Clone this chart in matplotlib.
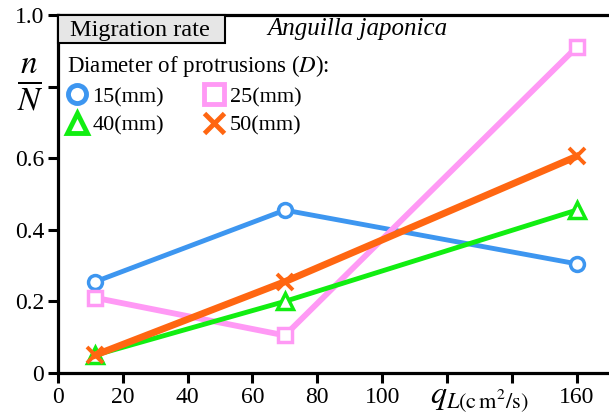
import numpy as np
import matplotlib
matplotlib.use('Agg')
import matplotlib.pyplot as plt
from matplotlib.patches import Rectangle
from matplotlib.lines import Line2D

# データ
q_L = [11.5, 70, 160]
rate_15 = [0.255, 0.455, 0.305]
rate_25 = [0.21, 0.105, 0.91]
rate_40 = [0.05, 0.20, 0.455]
rate_50 = [0.05, 0.255, 0.605]

x_ticks = [0, 20, 40, 60, 80, 100, 120, 140, 160]
x_labels = ['0', '20', '40', '60', '80', '100', '', '', '160']
y_ticks = [0, 0.2, 0.4, 0.6, 0.8, 1.0]
y_labels = ['0', '0.2', '0.4', '0.6', '', '1.0']

plt.rcParams['font.family'] = ['Liberation Serif', 'DejaVu Serif']
plt.rcParams['mathtext.fontset'] = 'stix'

fig = plt.figure(figsize=(6.09, 4.15), dpi=100)
ax = fig.add_axes([58/609, 1 - 373/415, 551/609, 358/415])

c_blue = '#3d96f0'
c_pink = '#ff99f5'
c_green = '#11ee11'
c_orange = '#ff6611'

ax.plot(q_L, rate_15, color=c_blue, lw=3.5, marker='o', ms=10, mfc='white', mec=c_blue, mew=2.5, zorder=3)
ax.plot(q_L, rate_25, color=c_pink, lw=4.2, marker='s', ms=10, mfc='white', mec=c_pink, mew=2.5, zorder=3)
ax.plot(q_L, rate_40, color=c_green, lw=3.5, marker='^', ms=11, mfc='white', mec=c_green, mew=2.5, zorder=4)
ax.plot(q_L, rate_50, color=c_orange, lw=5.0, marker='x', ms=12, mec=c_orange, mew=2.8, zorder=5)

ax.set_xlim(0, 170)
ax.set_ylim(0, 1.0)
ax.set_xticks(x_ticks)
ax.set_xticklabels(x_labels)
ax.set_yticks(y_ticks)
ax.set_yticklabels(y_labels)
ax.tick_params(direction='out', length=7, width=2.2, labelsize=17, pad=3)

for s in ['left', 'bottom', 'top']:
    ax.spines[s].set_linewidth(2.3)
ax.spines['right'].set_visible(False)

# 枠付きラベル
ax.add_patch(Rectangle((0, 0.922), 0.303, 0.078, transform=ax.transAxes,
                       facecolor='#e6e6e6', edgecolor='black', lw=1.5,
                       clip_on=False, zorder=6))
ax.text(0.148, 0.958, 'Migration rate', transform=ax.transAxes, fontsize=17.5,
        ha='center', va='center', zorder=7)
ax.text(0.543, 0.96, 'Anguilla japonica', transform=ax.transAxes, fontsize=18,
        style='italic', ha='center', va='center')

# 縦軸ラベル
fig.text(30/609, 1 - 85/415, r'$\frac{n}{N}$', fontsize=34, ha='center', va='center')
# 横軸ラベル
ax.text(130, -0.075, r'$q_{L(\mathrm{c\,m^2/s})}$', fontsize=23, ha='center', va='center')

# 凡例
handles = [
    Line2D([], [], ls='None', marker='o', ms=13, mfc='white', mec=c_blue, mew=3.5, label='15(mm)'),
    Line2D([], [], ls='None', marker='^', ms=14, mfc='white', mec=c_green, mew=3.5, label='40(mm)'),
    Line2D([], [], ls='None', marker='s', ms=14, mfc='white', mec=c_pink, mew=3.5, label='25(mm)'),
    Line2D([], [], ls='None', marker='x', ms=14, mec=c_orange, mew=3.5, label='50(mm)'),
]
leg = ax.legend(handles=handles, ncol=2, frameon=False, fontsize=16,
                title='Diameter of protrusions ($D$):', title_fontsize=16.5,
                loc='upper left', bbox_to_anchor=(-0.012, 0.938),
                handlelength=0.9, handletextpad=0.25, columnspacing=1.8,
                labelspacing=0.35, borderaxespad=0.3)
leg._legend_box.align = 'left'

fig.savefig('out.png', dpi=100)
